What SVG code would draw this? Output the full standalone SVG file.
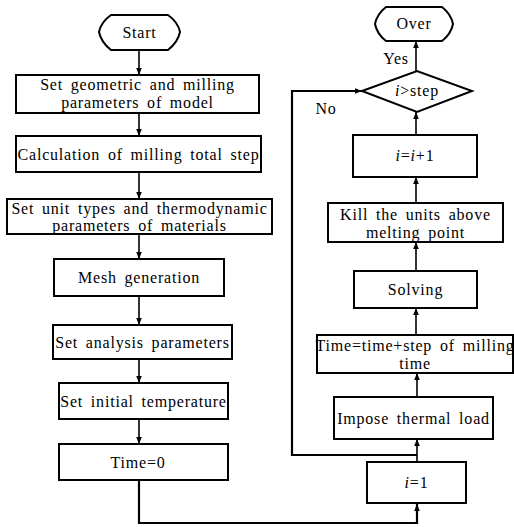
<svg xmlns="http://www.w3.org/2000/svg" width="514" height="527" viewBox="0 0 514 527">
<defs>
<style>
.b{fill:#fff;stroke:#000;stroke-width:2}
.t{font-size:16px;fill:#000;text-anchor:middle;letter-spacing:0.8px;word-spacing:3px}
.c{fill:none;stroke:#000;stroke-width:1.6}
.cb{fill:none;stroke:#000;stroke-width:2.2}
</style>
<marker id="ah" viewBox="0 0 10 10" refX="10" refY="5" markerWidth="7" markerHeight="7" markerUnits="userSpaceOnUse" orient="auto">
<path d="M0,1 L10,5 L0,9 Z" fill="#000"/>
</marker>
</defs>
<rect width="514" height="527" fill="#fff"/>
<g font-family="'Liberation Serif', 'DejaVu Serif', 'Times New Roman', serif">
<g id="connectors">
<line class="c" x1="139" y1="50" x2="139" y2="75" marker-end="url(#ah)"/>
<line class="c" x1="139" y1="113" x2="139" y2="136" marker-end="url(#ah)"/>
<line class="c" x1="139" y1="172" x2="139" y2="199" marker-end="url(#ah)"/>
<line class="c" x1="139" y1="234" x2="139" y2="259" marker-end="url(#ah)"/>
<line class="c" x1="139" y1="296" x2="139" y2="325" marker-end="url(#ah)"/>
<line class="c" x1="139" y1="359" x2="139" y2="383" marker-end="url(#ah)"/>
<line class="c" x1="139" y1="419" x2="139" y2="444" marker-end="url(#ah)"/>
<polyline class="cb" points="139,480 139,523 417,523 417,504" marker-end="url(#ah)"/>
<line class="c" x1="417" y1="462" x2="417" y2="439" marker-end="url(#ah)"/>
<polyline class="cb" points="417,455 292,455 292,91 362,91" marker-end="url(#ah)"/>
<line class="c" x1="417" y1="397" x2="417" y2="373" marker-end="url(#ah)"/>
<line class="c" x1="416" y1="335" x2="416" y2="308" marker-end="url(#ah)"/>
<line class="c" x1="416" y1="271" x2="416" y2="242" marker-end="url(#ah)"/>
<line class="c" x1="416" y1="203" x2="416" y2="177" marker-end="url(#ah)"/>
<line class="c" x1="416" y1="135" x2="416" y2="112" marker-end="url(#ah)"/>
<line class="c" x1="416" y1="71" x2="416" y2="41" marker-end="url(#ah)"/>
<text class="t" x="396" y="64">Yes</text>
<text class="t" x="326" y="114">No</text>
</g>
<g id="start">
<path class="b" d="M111,15 H168 Q178,22 180,32 Q178,42 168,50 H111 Q101,42 99,32 Q101,22 111,15 Z"/>
<text class="t" x="139.5" y="38">Start</text>
</g>
<g id="set-geometric">
<rect class="b" x="16" y="75" width="243" height="38"/>
<text class="t" x="137.5" y="90">Set geometric and milling</text>
<text class="t" x="137.5" y="108">parameters of model</text>
</g>
<g id="calc-step">
<rect class="b" x="16" y="136" width="245" height="36"/>
<text class="t" x="138.5" y="160">Calculation of milling total step</text>
</g>
<g id="set-unit">
<rect class="b" x="7" y="199" width="265" height="35"/>
<text class="t" x="139.5" y="214">Set unit types and thermodynamic</text>
<text class="t" x="139.5" y="231">parameters of materials</text>
</g>
<g id="mesh">
<rect class="b" x="54" y="259" width="170" height="37"/>
<text class="t" x="139" y="283">Mesh generation</text>
</g>
<g id="analysis">
<rect class="b" x="53" y="325" width="179" height="34"/>
<text class="t" x="142.5" y="348">Set analysis parameters</text>
</g>
<g id="initial-temp">
<rect class="b" x="59" y="383" width="169" height="36"/>
<text class="t" x="143.5" y="407">Set initial temperature</text>
</g>
<g id="time0">
<rect class="b" x="59" y="444" width="169" height="36"/>
<text class="t" x="138" y="468">Time=0</text>
</g>
<g id="i1">
<rect class="b" x="367" y="462" width="99" height="41"/>
<text class="t" x="416.5" y="488"><tspan font-style="italic">i</tspan>=1</text>
</g>
<g id="impose">
<rect class="b" x="334" y="397" width="159" height="42"/>
<text class="t" x="413.5" y="424">Impose thermal load</text>
</g>
<g id="time-step">
<rect class="b" x="317" y="335" width="196" height="38"/>
<text class="t" x="415" y="351">Time=time+step of milling</text>
<text class="t" x="415" y="369">time</text>
</g>
<g id="solving">
<rect class="b" x="354" y="271" width="123" height="37"/>
<text class="t" x="415.5" y="295">Solving</text>
</g>
<g id="kill">
<rect class="b" x="328" y="203" width="175" height="39"/>
<text class="t" x="415.5" y="220">Kill the units above</text>
<text class="t" x="415.5" y="238">melting point</text>
</g>
<g id="i-inc">
<rect class="b" x="353" y="135" width="124" height="42"/>
<text class="t" x="415" y="161"><tspan font-style="italic">i</tspan>=<tspan font-style="italic">i</tspan>+1</text>
</g>
<g id="decision">
<polygon class="b" points="362,91 417,71 472,91 417,112"/>
<text class="t" x="417" y="96" letter-spacing="0" word-spacing="0"><tspan font-style="italic">i</tspan>&gt;step</text>
</g>
<g id="over">
<path class="b" d="M386,7 H442 Q451,14 453,24 Q451,34 442,41 H386 Q377,34 375,24 Q377,14 386,7 Z"/>
<text class="t" x="414" y="29">Over</text>
</g>
</g>
</svg>
